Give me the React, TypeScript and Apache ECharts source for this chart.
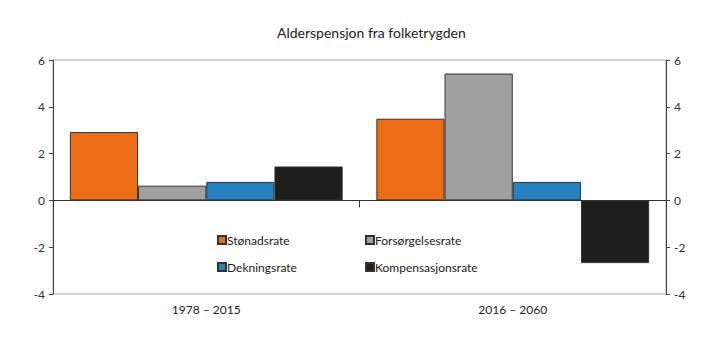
import React, { useEffect, useRef } from "react";
import * as echarts from "echarts";

const title = "Alderspensjon fra folketrygden";
const categories = ["1978 – 2015", "2016 – 2060"];
const seriesNames = ["Stønadsrate", "Forsørgelsesrate", "Dekningsrate", "Kompensasjonsrate"];
const stonadsrate = [2.92, 3.49];
const forsorgelsesrate = [0.63, 5.42];
const dekningsrate = [0.79, 0.79];
const kompensasjonsrate = [1.45, -2.68];
const colors = ["#EB6E17", "#A0A09F", "#2582C2", "#1E1E1C"];

const FONT = "Lato";

export default function App() {
  const ref = useRef<HTMLDivElement>(null);
  useEffect(() => {
    if (!ref.current) return;
    const chart = echarts.init(ref.current, null, { renderer: "svg" });
    const values = [stonadsrate, forsorgelsesrate, dekningsrate, kompensasjonsrate];
    const yAxisCommon = {
      type: "value",
      min: -4,
      max: 6,
      interval: 2,
      splitLine: { show: false },
      axisLine: { show: true, lineStyle: { color: "#444", width: 1 } },
      axisTick: { show: true, length: 4, lineStyle: { color: "#444" } },
      axisLabel: { color: "#333", fontSize: 12, fontFamily: FONT, margin: 8 },
    };
    const legendCommon = {
      orient: "vertical",
      top: 234,
      padding: 0,
      itemWidth: 8,
      itemHeight: 8,
      itemGap: 15,
      icon: "rect",
      textStyle: { fontSize: 12, color: "#222", fontFamily: FONT, padding: [0, 0, 0, -4] },
    };
    chart.setOption({
      animation: false,
      textStyle: { fontFamily: FONT },
      title: {
        text: title,
        left: 272,
        top: 20,
        textStyle: { fontSize: 14, fontWeight: "normal", color: "#222", fontFamily: FONT },
      },
      grid: {
        left: 53,
        right: 53,
        top: 60,
        bottom: 57,
        show: true,
        borderColor: "#AAAAAA",
        borderWidth: 1,
        containLabel: false,
      },
      legend: [
        { ...legendCommon, data: [seriesNames[0], seriesNames[2]], left: 217 },
        { ...legendCommon, data: [seriesNames[1], seriesNames[3]], left: 365 },
      ],
      xAxis: [
        {
          type: "category",
          data: categories,
          position: "bottom",
          axisLine: { show: false, onZero: false },
          axisTick: { show: false },
          axisLabel: { color: "#222", fontSize: 12, fontFamily: FONT, margin: 9 },
        },
        {
          type: "category",
          data: categories,
          position: "bottom",
          axisLine: { show: true, onZero: true, lineStyle: { color: "#333", width: 1 } },
          axisTick: { show: true, length: 7, interval: 0, lineStyle: { color: "#333" } },
          axisLabel: { show: false },
        },
      ],
      yAxis: [
        { ...yAxisCommon, position: "left" },
        { ...yAxisCommon, position: "right" },
      ],
      series: seriesNames.map((name, i) => ({
        name,
        type: "bar",
        xAxisIndex: 0,
        yAxisIndex: 0,
        data: values[i],
        barGap: "0%",
        barCategoryGap: "11%",
        itemStyle: { color: colors[i], borderColor: "#333", borderWidth: 1 },
      })),
    });
    return () => chart.dispose();
  }, []);
  return <div ref={ref} style={{ width: 719, height: 351, margin: -8 }} />;
}
